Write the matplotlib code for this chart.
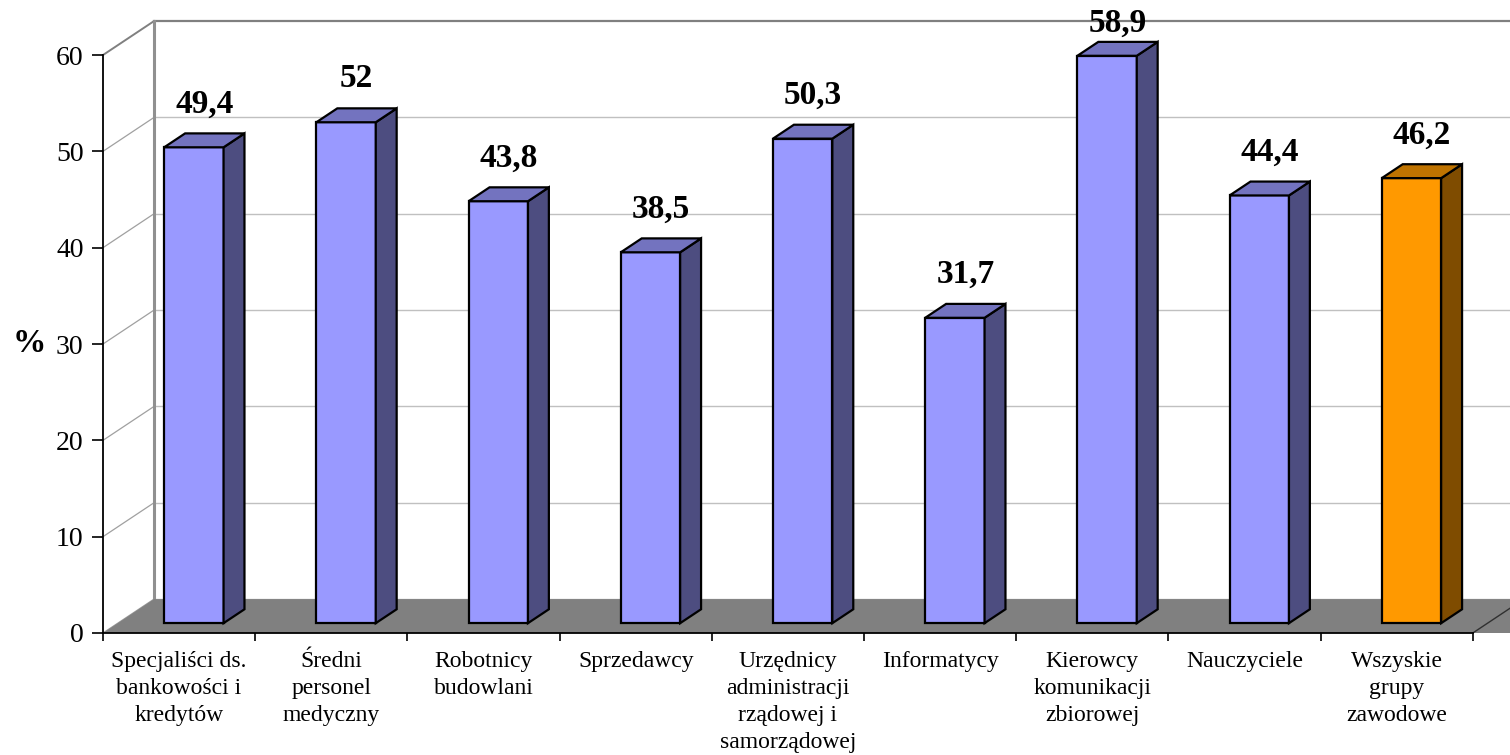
import matplotlib
matplotlib.use('Agg')
import matplotlib.pyplot as plt
from matplotlib.patches import Polygon
from matplotlib.ticker import FixedLocator, FixedFormatter, NullFormatter

categories = [
    "Specjaliści ds.\nbankowości i\nkredytów",
    "Średni\npersonel\nmedyczny",
    "Robotnicy\nbudowlani",
    "Sprzedawcy",
    "Urzędnicy\nadministracji\nrządowej i\nsamorządowej",
    "Informatycy",
    "Kierowcy\nkomunikacji\nzbiorowej",
    "Nauczyciele",
    "Wszyskie\ngrupy\nzawodowe",
]
values = [49.4, 52, 43.8, 38.5, 50.3, 31.7, 58.9, 44.4, 46.2]
is_total = [False] * 8 + [True]
y_ticks = [0, 10, 20, 30, 40, 50, 60]

SERIF = ['Liberation Serif', 'DejaVu Serif']
plt.rcParams['font.family'] = SERIF

# colours
BLUE = ('#9999FF', '#4D4D80', '#7373BF')     # front, side, top
ORANGE = ('#FF9900', '#7F4C00', '#BF7300')

# geometry (pixel mapping of the chart)
W, H = 1510, 755
X0, Y0 = 103, 633
SX, SY = 152.2, 9.633
DX, DY = 0.335, 3.52          # full depth offset (data units)
F0, D = 0.29, 0.41            # bar front depth fraction, bar depth fraction
BW = 0.39                     # bar width

fig = plt.figure(figsize=(W / 100, H / 100), dpi=100)
ax = fig.add_axes([0, 0, 1, 1])
ax.set_xlim(-X0 / SX, (W - X0) / SX)
ax.set_ylim(-(H - Y0) / SY, Y0 / SY)
ax.set_facecolor('white')

n = len(values)
ymax = y_ticks[-1]
xr_lim = ax.get_xlim()[1] + 1
label_top = ax.get_ylim()[1] - 2.4   # keep value labels inside the figure

# back wall gridlines
for t in y_ticks:
    col, lw = ('#808080', 1.6) if t == ymax else ('#C0C0C0', 1.0)
    ax.plot([DX, xr_lim], [t + DY, t + DY], color=col, lw=lw, zorder=1)
    # left wall diagonals
    ax.plot([0, DX], [t, t + DY], color='#A0A0A0' if t != ymax else '#808080',
            lw=0.9 if t != ymax else 1.4, zorder=1)
# back wall left edge
ax.plot([DX, DX], [DY, ymax + DY], color='#909090', lw=2.2, zorder=1)

# floor
floor = Polygon([(0, 0), (n + 1.5, 0), (n + 1.5 + DX, DY), (DX, DY)],
                closed=True, facecolor='#808080', edgecolor='none', zorder=2)
ax.add_patch(floor)
ax.plot([n, n + DX * 1.2], [0, DY * 1.2], color='#303030', lw=1.0, zorder=2)

# bars
for i, (v, tot) in enumerate(zip(values, is_total)):
    fc, sc, tc = ORANGE if tot else BLUE
    xc = i + 0.5 + F0 * DX
    yb = F0 * DY
    ax.bar(xc, v, width=BW, bottom=yb, color=fc, edgecolor='black',
           linewidth=1.6, zorder=3)
    xl, xr = xc - BW / 2, xc + BW / 2
    yt = v + yb
    side = Polygon([(xr, yb), (xr + D * DX, yb + D * DY),
                    (xr + D * DX, yt + D * DY), (xr, yt)], closed=True,
                   facecolor=sc, edgecolor='black', linewidth=1.6,
                   joinstyle='miter', zorder=3)
    top = Polygon([(xl, yt), (xr, yt), (xr + D * DX, yt + D * DY),
                   (xl + D * DX, yt + D * DY)], closed=True,
                  facecolor=tc, edgecolor='black', linewidth=1.6,
                  joinstyle='miter', zorder=3)
    ax.add_patch(side)
    ax.add_patch(top)
    label = f"{v:g}".replace('.', ',')
    ax.text(xc + (D / 2) * DX, min(yt + 4.5, label_top), label,
            ha='center', va='center',
            fontsize=24, fontweight='bold', family=SERIF, zorder=5)

# axes spines / ticks
for s in ('top', 'right'):
    ax.spines[s].set_visible(False)
ax.spines['left'].set_position(('data', 0))
ax.spines['left'].set_bounds(0, ymax)
ax.spines['bottom'].set_position(('data', 0))
ax.spines['bottom'].set_bounds(0, n)
for s in ('left', 'bottom'):
    ax.spines[s].set_linewidth(1.3)
    ax.spines[s].set_zorder(4)

ax.set_yticks(y_ticks)
ax.set_yticklabels([str(t) for t in y_ticks])
ax.tick_params(axis='y', direction='out', length=8, width=1.2,
               labelsize=20, pad=6)
ax.xaxis.set_major_locator(FixedLocator(list(range(n + 1))))
ax.xaxis.set_major_formatter(NullFormatter())
ax.xaxis.set_minor_locator(FixedLocator([i + 0.5 for i in range(n)]))
ax.xaxis.set_minor_formatter(FixedFormatter(categories))
ax.tick_params(axis='x', which='major', direction='out', length=6, width=1.2)
ax.tick_params(axis='x', which='minor', length=0, labelsize=17, pad=13)
for lbl in ax.get_xticklabels(minor=True):
    lbl.set_linespacing(1.38)
    lbl.set_verticalalignment('top')

ax.set_ylabel('%', rotation=0, fontsize=24, fontweight='bold')
ax.yaxis.set_label_coords(29 / W, 1 - 343 / H)
ax.yaxis.label.set_verticalalignment('center')
ax.yaxis.label.set_horizontalalignment('center')

fig.savefig('out.png', dpi=100)
